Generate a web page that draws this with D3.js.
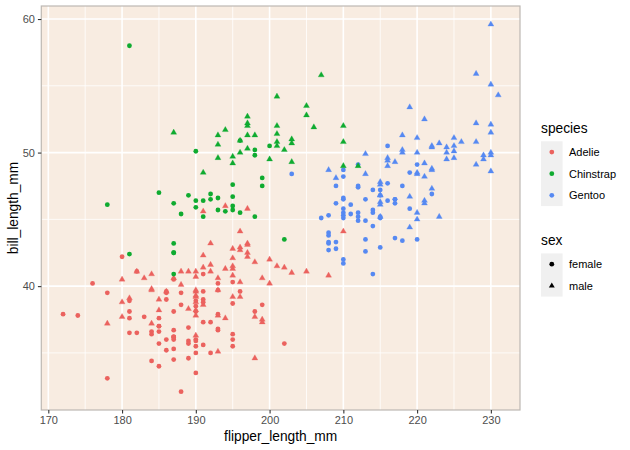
<!DOCTYPE html>
<html>
<head>
<meta charset="utf-8">
<script src="https://cdn.jsdelivr.net/npm/d3@7"></script>
<style>
  body { margin: 0; background: #fff; }
  svg { font-family: "Liberation Sans", Arial, Helvetica, sans-serif; }
</style>
</head>
<body>
<svg id="chart" width="630" height="450"></svg>
<script>
var adelieFlipper = [181,186,195,193,190,181,195,182,191,198,185,195,197,184,194,174,180,189,185,180,187,183,187,172,180,178,178,188,184,195,196,190,180,181,184,182,195,186,196,185,190,182,190,191,186,188,190,200,187,191,186,193,181,194,185,195,185,192,184,192,195,188,190,198,190,190,196,197,190,195,191,184,187,195,189,196,187,193,191,194,190,189,189,190,202,205,185,186,187,208,190,196,178,192,192,203,183,190,193,184,199,190,181,197,198,191,193,197,191,196,188,199,189,189,187,198,176,202,186,199,191,195,191,210,190,197,193,199,187,190,191,200,185,193,193,187,188,190,192,185,190,184,195,193,187,201];
var adelieBill = [39.1,39.5,40.3,36.7,39.3,38.9,39.2,41.1,38.6,34.6,36.6,38.7,42.5,34.4,46.0,37.8,37.7,35.9,38.2,38.8,35.3,40.6,40.5,37.9,40.5,39.5,37.2,39.5,40.9,36.4,39.2,38.8,42.2,37.6,39.8,36.5,40.8,36.0,44.1,37.0,39.6,41.1,36.0,42.3,39.6,40.1,35.0,42.0,34.5,41.4,39.0,40.6,36.5,37.6,35.7,41.3,37.6,41.1,36.4,41.6,35.5,41.1,35.9,41.8,33.5,39.7,39.6,45.8,35.5,42.8,40.9,37.2,36.2,42.1,34.6,42.9,36.7,35.1,37.3,41.3,36.3,36.9,38.3,38.9,35.7,41.1,34.0,39.6,36.2,40.8,38.1,40.3,33.1,43.2,35.0,41.0,37.7,37.8,37.9,39.7,38.6,38.2,38.1,43.2,38.1,45.6,39.7,42.2,39.6,42.7,38.6,37.3,35.7,41.1,36.2,37.7,40.2,41.4,35.2,40.6,38.8,41.5,39.0,44.1,38.5,43.1,36.8,37.5,38.1,41.1,35.6,40.2,37.0,39.7,40.2,40.6,32.1,40.7,37.3,39.0,39.2,36.6,36.0,37.8,36.0,41.5];
var adelieSex = "mfffmfmfmmffmfm" + "fmfmmfmffm" + "fmfmfmmffmfmfmfmmfm" + "fmfmfmfmfmfmfmfmfm" +
    "fmfmfmfmfmfmfmfm" + "fmmfmffmfmfmfmfm" + "fmfmfmfmfmfmfmfm" + "fmfmfmfmfmfmfmfm" + "fmfmfmfmfmfmfmmffmfm";

var gentooFlipper = [211,230,210,218,215,210,211,219,209,215,214,216,214,213,210,217,210,221,209,222,218,215,213,215,215,215,215,210,220,222,209,207,230,220,220,213,219,208,208,208,225,210,216,222,217,210,225,213,215,210,220,210,225,217,220,208,220,208,224,208,221,214,231,219,230,229,220,223,216,221,221,217,216,230,209,220,215,223,212,221,212,224,212,228,218,218,212,230,218,228,212,224,214,226,216,222,203,225,219,228,215,228,215,210,219,208,209,216,229,213,230,217,230,222,214,215,222,212,213];
var gentooBill = [46.1,50.0,48.7,50.0,47.6,46.5,45.4,46.7,43.3,46.8,40.9,49.0,45.5,48.4,45.8,49.3,42.0,49.2,46.2,48.7,50.2,45.1,46.5,46.3,42.9,46.1,47.8,48.2,50.0,47.3,42.8,45.1,59.6,49.1,48.4,42.6,44.4,44.0,48.7,42.7,49.6,45.3,49.6,50.5,43.6,45.5,50.5,44.9,45.2,46.6,48.5,45.1,50.1,46.5,45.0,43.8,45.5,43.2,50.4,45.3,46.2,45.7,54.3,45.8,49.8,49.5,43.5,50.7,47.7,46.4,48.2,46.5,46.4,48.6,47.5,51.1,45.2,45.2,49.1,52.5,47.4,50.0,44.9,50.8,43.4,51.3,47.5,52.1,47.5,52.2,45.5,49.5,44.5,50.8,49.4,46.9,48.4,51.1,48.5,55.9,47.2,49.1,46.8,41.7,53.4,43.3,48.1,50.5,49.8,43.5,51.5,46.2,55.1,48.8,47.2,46.8,50.4,45.2,49.9];
var gentooSex = "fmfmmffmfm" + "fmfmfmfmfm" + "mffmfmmfm" + "mffmfmfmfm" + "fmfmmffmfm" + "fmfmfmfmfm" +
    "fmfmfmmfm" + "fmmffmfmfm" + "fmfmfmfmfm" + "fmfmfmmffm" + "fmfmmfmfm" + "fmfmfmmf" + "fmfm";

var chinstrapFlipper = [192,196,193,188,197,198,178,197,195,198,193,194,185,201,190,201,197,181,190,195,181,191,187,193,195,197,200,200,191,205,187,201,187,203,195,199,195,210,192,205,210,187,196,196,196,201,190,212,187,198,199,201,193,203,187,197,191,203,202,194,206,189,195,207,202,193,210,198];
var chinstrapBill = [46.5,50.0,51.3,45.4,52.7,45.2,46.1,51.3,46.0,51.3,46.6,51.7,47.0,52.0,45.9,50.5,50.3,58.0,46.4,49.2,42.4,48.5,43.2,50.6,46.7,52.0,50.5,49.5,46.4,52.8,40.9,54.2,42.5,51.0,49.7,47.5,47.6,52.0,46.9,53.5,49.0,46.2,50.9,45.5,50.9,50.8,50.1,49.0,51.5,49.8,48.1,51.4,45.7,50.7,42.5,52.2,45.2,49.3,50.2,45.6,51.9,46.8,45.7,55.8,43.5,49.6,50.8,50.2];
var chinstrapSex = "fmmfmffmfm" + "fmfmfmmffm" + "fmfmfmfmfm" + "fmfmmffmfm" + "mfmffmfmmf" + "fmfmfmfmmf" + "mffmfmmf";

var speciesNames = ["Adelie", "Chinstrap", "Gentoo"];
var speciesColors = ["#EB625E", "#0FAB30", "#5689F2"];
var sexNames = ["female", "male"];
var xTicks = [170, 180, 190, 200, 210, 220, 230];
var yTicks = [40, 50, 60];

// drawing order follows the data set: Adelie, Gentoo, Chinstrap
var penguins = [];
function addRows(name, flip, bill, sex) {
    for (var i = 0; i < flip.length; i++) {
        penguins.push({species: name, flipper: flip[i], bill: bill[i], sex: sex[i] == "m" ? "male" : "female"});
    }
}
addRows("Adelie", adelieFlipper, adelieBill, adelieSex);
addRows("Gentoo", gentooFlipper, gentooBill, gentooSex);
addRows("Chinstrap", chinstrapFlipper, chinstrapBill, chinstrapSex);

var svg = d3.select("#chart");
var panel = {left: 41.3, right: 520, top: 6, bottom: 410};

// ggplot style 5% expansion
var xExt = d3.extent(penguins, d => d.flipper);
var yExt = d3.extent(penguins, d => d.bill);
var xPad = (xExt[1] - xExt[0]) * 0.05, yPad = (yExt[1] - yExt[0]) * 0.05;
var x = d3.scaleLinear().domain([xExt[0] - xPad, xExt[1] + xPad]).range([panel.left, panel.right]);
var y = d3.scaleLinear().domain([yExt[0] - yPad, yExt[1] + yPad]).range([panel.bottom, panel.top]);
var color = d3.scaleOrdinal().domain(speciesNames).range(speciesColors);

// panel background
svg.append("rect")
    .attr("x", panel.left).attr("y", panel.top)
    .attr("width", panel.right - panel.left).attr("height", panel.bottom - panel.top)
    .attr("fill", "#F8ECE1");

// grid lines, minor then major
var xMinor = d3.range(175, 234, 10), yMinor = [35, 45, 55];
svg.append("g").selectAll("line").data(xMinor).join("line")
    .attr("x1", d => x(d)).attr("x2", d => x(d)).attr("y1", panel.top).attr("y2", panel.bottom)
    .attr("stroke", "#fff").attr("stroke-width", 0.8);
svg.append("g").selectAll("line").data(yMinor).join("line")
    .attr("y1", d => y(d)).attr("y2", d => y(d)).attr("x1", panel.left).attr("x2", panel.right)
    .attr("stroke", "#fff").attr("stroke-width", 0.8);
svg.append("g").selectAll("line").data(xTicks).join("line")
    .attr("x1", d => x(d)).attr("x2", d => x(d)).attr("y1", panel.top).attr("y2", panel.bottom)
    .attr("stroke", "#fff").attr("stroke-width", 1.6);
svg.append("g").selectAll("line").data(yTicks).join("line")
    .attr("y1", d => y(d)).attr("y2", d => y(d)).attr("x1", panel.left).attr("x2", panel.right)
    .attr("stroke", "#fff").attr("stroke-width", 1.6);

// points
function triangle(R) {
    return "M0," + (-1.555 * R) + "L" + (1.347 * R) + "," + (0.778 * R) + "L" + (-1.347 * R) + "," + (0.778 * R) + "Z";
}
var pts = svg.append("g");
penguins.forEach(function(d) {
    if (d.sex == "female") {
        pts.append("circle").attr("cx", x(d.flipper)).attr("cy", y(d.bill)).attr("r", 2.4)
            .attr("fill", color(d.species));
    } else {
        pts.append("path").attr("d", triangle(2.2))
            .attr("transform", "translate(" + x(d.flipper) + "," + y(d.bill) + ")")
            .attr("fill", color(d.species)).attr("stroke", color(d.species)).attr("stroke-width", 0.3);
    }
});

// panel border
svg.append("rect")
    .attr("x", panel.left).attr("y", panel.top)
    .attr("width", panel.right - panel.left).attr("height", panel.bottom - panel.top)
    .attr("fill", "none").attr("stroke", "#BDB8B3").attr("stroke-width", 1.2);

// axes
var xAxis = svg.append("g").attr("transform", "translate(0," + panel.bottom + ")")
    .call(d3.axisBottom(x).tickValues(xTicks).tickSize(3.4).tickPadding(3));
var yAxis = svg.append("g").attr("transform", "translate(" + panel.left + ",0)")
    .call(d3.axisLeft(y).tickValues(yTicks).tickSize(3.4).tickPadding(3));
[xAxis, yAxis].forEach(function(a) {
    a.select(".domain").remove();
    a.selectAll(".tick line").attr("stroke", "#333333").attr("stroke-width", 1.1);
    a.selectAll(".tick text").attr("fill", "#4D4D4D").style("font-size", "11px")
        .style("font-family", "'Liberation Sans', Arial, sans-serif");
});

// axis titles
svg.append("text").attr("x", (panel.left + panel.right) / 2).attr("y", 441)
    .attr("text-anchor", "middle").style("font-size", "13.75px").text("flipper_length_mm");
svg.append("text").attr("transform", "translate(18," + (panel.top + panel.bottom) / 2 + ") rotate(-90)")
    .attr("text-anchor", "middle").style("font-size", "13.75px").text("bill_length_mm");

// legends
var keyW = 21.6, legX = 541;
svg.append("text").attr("x", legX).attr("y", 133).style("font-size", "13.75px").text("species");
svg.append("rect").attr("x", legX).attr("y", 141.3).attr("width", keyW).attr("height", keyW * 3).attr("fill", "#F0F0F0");
speciesNames.forEach(function(s, i) {
    var cy = 141.3 + keyW * i + keyW / 2;
    svg.append("circle").attr("cx", legX + keyW / 2).attr("cy", cy).attr("r", 2.4).attr("fill", color(s));
    svg.append("text").attr("x", 569).attr("y", cy).attr("dy", "0.35em").style("font-size", "11px").text(s);
});

svg.append("text").attr("x", legX).attr("y", 245).style("font-size", "13.75px").text("sex");
svg.append("rect").attr("x", legX).attr("y", 253.4).attr("width", keyW).attr("height", keyW * 2).attr("fill", "#F0F0F0");
sexNames.forEach(function(s, i) {
    var cy = 253.4 + keyW * i + keyW / 2;
    if (s == "female") {
        svg.append("circle").attr("cx", legX + keyW / 2).attr("cy", cy).attr("r", 2.4).attr("fill", "#000");
    } else {
        svg.append("path").attr("d", triangle(2.2)).attr("transform", "translate(" + (legX + keyW / 2) + "," + cy + ")")
            .attr("fill", "#000");
    }
    svg.append("text").attr("x", 569).attr("y", cy).attr("dy", "0.35em").style("font-size", "11px").text(s);
});
</script>
</body>
</html>
